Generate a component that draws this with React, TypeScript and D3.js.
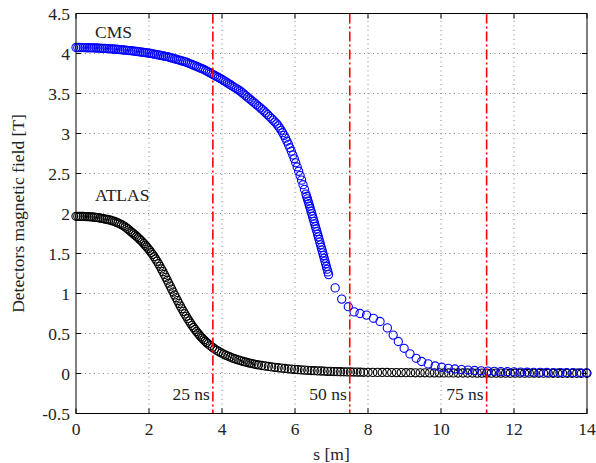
import React from "react";
import * as d3 from "d3";

// ATLAS field samples [s (m), B (T)]
const atlasPoints: [number, number][] = [
  [0,1.965],[0.05,1.965],[0.1,1.964],[0.15,1.964],[0.2,1.963],[0.25,1.962],[0.3,1.961],[0.35,1.96],[0.4,1.958],[0.45,1.956],[0.5,1.954],[0.55,1.951],[0.6,1.948],[0.65,1.944],[0.7,1.94],[0.75,1.935],[0.8,1.93],[0.85,1.925],[0.9,1.921],[0.95,1.916],[1,1.908],[1.05,1.9],[1.1,1.891],[1.15,1.882],[1.2,1.871],[1.25,1.86],[1.3,1.846],[1.35,1.831],[1.4,1.814],[1.45,1.795],[1.5,1.775],
  [1.54,1.76],[1.58,1.745],[1.62,1.73],[1.66,1.714],[1.7,1.697],[1.74,1.68],[1.78,1.662],[1.82,1.643],[1.86,1.623],[1.9,1.602],[1.94,1.581],[1.98,1.559],[2.02,1.536],[2.06,1.512],[2.1,1.487],[2.14,1.46],[2.18,1.432],[2.22,1.403],[2.26,1.372],[2.3,1.34],[2.34,1.307],[2.38,1.273],[2.42,1.238],[2.46,1.202],[2.5,1.166],[2.54,1.129],[2.58,1.092],[2.62,1.055],[2.66,1.018],[2.7,0.982],[2.74,0.946],[2.78,0.911],[2.82,0.876],[2.86,0.842],[2.9,0.809],[2.94,0.777],[2.98,0.745],[3.02,0.715],[3.06,0.685],[3.1,0.656],[3.14,0.628],[3.18,0.601],[3.22,0.575],[3.26,0.55],[3.3,0.526],[3.34,0.503],[3.38,0.481],[3.42,0.46],[3.46,0.44],[3.5,0.421],[3.54,0.403],[3.58,0.386],[3.62,0.37],
  [3.68,0.348],[3.74,0.327],[3.8,0.307],[3.86,0.289],[3.92,0.272],[3.98,0.257],[4.04,0.243],[4.1,0.23],[4.16,0.218],[4.22,0.206],[4.28,0.195],[4.34,0.185],[4.4,0.176],[4.46,0.167],[4.52,0.159],[4.58,0.151],[4.64,0.144],[4.7,0.137],[4.76,0.13],[4.82,0.124],[4.88,0.118],[4.94,0.112],[5,0.107],
  [5.09,0.1],[5.18,0.094],[5.27,0.088],[5.36,0.082],[5.45,0.077],[5.54,0.072],[5.63,0.067],[5.72,0.063],[5.81,0.059],[5.9,0.055],[5.99,0.051],[6.08,0.048],[6.17,0.045],[6.26,0.042],[6.35,0.04],[6.44,0.037],[6.53,0.035],[6.62,0.033],[6.71,0.031],[6.8,0.029],[6.89,0.027],[6.98,0.026],[7.07,0.024],[7.16,0.023],[7.25,0.022],[7.34,0.021],[7.43,0.02],[7.52,0.019],[7.61,0.018],[7.7,0.017],[7.79,0.016],[7.88,0.015],
  [8,0.015],[8.13,0.014],[8.26,0.014],[8.39,0.013],[8.52,0.013],[8.65,0.012],[8.78,0.011],[8.91,0.011],[9.04,0.01],[9.17,0.01],[9.3,0.009],[9.43,0.009],[9.56,0.009],[9.69,0.008],[9.82,0.008],[9.95,0.008],[10.08,0.007],[10.21,0.007],[10.34,0.007],[10.47,0.006],[10.6,0.006],[10.73,0.006],[10.86,0.006],[10.99,0.005],[11.12,0.005],[11.25,0.005],[11.38,0.005],[11.51,0.005],[11.64,0.005],[11.77,0.005],[11.9,0.004],[12.03,0.004],[12.16,0.004],[12.29,0.004],[12.42,0.004],[12.55,0.004],[12.68,0.004],[12.81,0.004],[12.94,0.004],[13.07,0.003],[13.2,0.003],[13.33,0.003],[13.46,0.003],[13.59,0.003],[13.72,0.003],[13.85,0.003],[14,0.003],
];

// CMS field samples [s (m), B (T)]
const cmsPoints: [number, number][] = [
  [0,4.075],[0.05,4.075],[0.1,4.075],[0.15,4.074],[0.2,4.074],[0.25,4.073],[0.3,4.072],[0.35,4.072],[0.4,4.071],[0.45,4.071],[0.5,4.07],
  [0.55,4.069],[0.6,4.068],[0.65,4.067],[0.7,4.065],[0.75,4.064],[0.8,4.063],[0.85,4.061],[0.9,4.06],[0.95,4.058],[1,4.057],
  [1.05,4.055],[1.1,4.053],[1.15,4.051],[1.2,4.048],[1.25,4.046],[1.3,4.044],[1.35,4.042],[1.4,4.04],[1.45,4.037],[1.5,4.035],
  [1.55,4.032],[1.6,4.029],[1.65,4.026],[1.7,4.023],[1.75,4.02],[1.8,4.017],[1.85,4.014],[1.9,4.011],[1.95,4.008],[2,4.005],
  [2.05,4.001],[2.1,3.996],[2.15,3.992],[2.2,3.987],[2.25,3.983],[2.3,3.978],[2.35,3.973],[2.4,3.969],[2.45,3.965],[2.5,3.96],
  [2.55,3.954],[2.6,3.947],[2.65,3.941],[2.7,3.934],[2.75,3.928],[2.8,3.921],[2.85,3.915],[2.9,3.908],[2.95,3.902],[3,3.895],
  [3.05,3.886],[3.1,3.876],[3.15,3.867],[3.2,3.857],[3.25,3.848],[3.3,3.838],[3.35,3.829],[3.4,3.819],[3.45,3.81],[3.5,3.8],
  [3.55,3.788],[3.6,3.775],[3.65,3.763],[3.7,3.75],[3.75,3.738],[3.8,3.725],[3.85,3.713],[3.9,3.7],[3.95,3.688],[4,3.675],
  [4.05,3.661],[4.1,3.646],[4.15,3.632],[4.2,3.617],[4.25,3.603],[4.3,3.588],[4.35,3.574],[4.4,3.559],[4.45,3.545],[4.5,3.53],
  [4.55,3.511],[4.6,3.492],[4.65,3.473],[4.7,3.454],[4.75,3.435],[4.8,3.416],[4.85,3.397],[4.9,3.378],[4.95,3.359],[5,3.34],
  [5.05,3.32],[5.1,3.3],[5.15,3.28],[5.2,3.258],[5.25,3.236],[5.3,3.213],[5.35,3.19],[5.4,3.167],[5.45,3.143],[5.5,3.12],
  [5.54,3.095],[5.58,3.068],[5.62,3.04],[5.66,3.01],[5.7,2.977],[5.74,2.942],[5.78,2.904],[5.82,2.864],[5.86,2.822],[5.9,2.778],[5.94,2.732],[5.98,2.684],[6.02,2.634],[6.06,2.582],[6.1,2.528],[6.14,2.473],[6.18,2.417],[6.22,2.36],[6.26,2.302],[6.3,2.243],
  [6.32,2.213],[6.34,2.183],[6.36,2.153],[6.38,2.122],[6.4,2.091],[6.42,2.06],[6.44,2.029],[6.46,1.998],[6.48,1.966],[6.5,1.934],[6.52,1.902],[6.54,1.87],[6.56,1.838],[6.58,1.806],[6.6,1.774],[6.62,1.741],[6.64,1.708],[6.66,1.675],[6.68,1.642],[6.7,1.609],[6.72,1.576],[6.74,1.542],[6.76,1.508],[6.78,1.474],[6.8,1.44],[6.82,1.406],[6.84,1.372],[6.86,1.338],[6.88,1.304],[6.9,1.27],[6.92,1.236],
  [7.1,1.07],[7.28,0.93],[7.46,0.835],[7.62,0.77],[7.78,0.75],[7.96,0.73],[8.15,0.69],[8.33,0.65],[8.53,0.57],[8.69,0.48],[8.83,0.4],[8.99,0.315],[9.15,0.245],[9.32,0.19],[9.47,0.15],[9.65,0.12],[9.84,0.094],[10.02,0.078],[10.2,0.065],
  [10.38,0.056],[10.56,0.049],[10.74,0.043],[10.92,0.038],[11.1,0.034],[11.28,0.03],[11.46,0.027],[11.64,0.024],[11.82,0.022],[12,0.02],[12.18,0.018],[12.36,0.016],[12.54,0.015],[12.72,0.014],[12.9,0.013],[13.08,0.012],[13.26,0.011],[13.44,0.01],[13.62,0.01],[13.8,0.009],[13.98,0.009],
];

const xTicks = [0, 2, 4, 6, 8, 10, 12, 14];
const yTicks = [-0.5, 0, 0.5, 1, 1.5, 2, 2.5, 3, 3.5, 4, 4.5];
const bunchS = [3.75, 7.5, 11.25];
const bunchLabels = ["25 ns", "50 ns", "75 ns"];
const seriesLabels = [
  { name: "CMS", s: 0.52, b: 4.27 },
  { name: "ATLAS", s: 0.52, b: 2.23 },
];

const W = 596, H = 463;
const L = 76, R = 587, T = 13.5, B = 413.5;
const textStyle = { fontFamily: "'Liberation Serif', 'DejaVu Serif', serif", fontSize: "17.5px", fill: "#222" } as const;

export default function App() {
  const x = d3.scaleLinear().domain([0, 14]).range([L, R]);
  const y = d3.scaleLinear().domain([-0.5, 4.5]).range([B, T]);
  const fmt = (v: number) => (v < 0 ? "-" + String(-v) : String(v));

  return (
    <svg width={W} height={H} style={{ position: "absolute", left: 0, top: 0, background: "#fff" }}>
      <rect x={0} y={0} width={W} height={H} fill="#fff" />
      {/* grid */}
      <g stroke="#666" strokeWidth={0.8} strokeDasharray="1,3.5">
        {xTicks.slice(1, -1).map((t) => (
          <line key={"gx" + t} x1={x(t)} x2={x(t)} y1={B} y2={T} />
        ))}
        {yTicks.slice(1, -1).map((t) => (
          <line key={"gy" + t} x1={L} x2={R} y1={y(t)} y2={y(t)} />
        ))}
      </g>
      {/* ATLAS */}
      <g fill="none" stroke="#000" strokeWidth={1.1}>
        {atlasPoints.map(([s, b], i) => (
          <circle key={"a" + i} cx={x(s)} cy={y(b)} r={4.1} />
        ))}
      </g>
      {/* CMS */}
      <g fill="none" stroke="#0000ff" strokeWidth={1.1}>
        {cmsPoints.map(([s, b], i) => (
          <circle key={"c" + i} cx={x(s)} cy={y(b)} r={4.1} />
        ))}
      </g>
      {/* bunch spacing lines */}
      <g stroke="#ff0000" strokeWidth={1.6} strokeDasharray="10,3,2,3">
        {bunchS.map((s) => (
          <line key={"b" + s} x1={x(s)} x2={x(s)} y1={T} y2={B} />
        ))}
      </g>
      {bunchS.map((s, i) => (
        <text key={"bl" + s} x={x(s) - 3} y={y(-0.25)} dy="0.35em" textAnchor="end" style={textStyle}>
          {bunchLabels[i]}
        </text>
      ))}
      {seriesLabels.map((d) => (
        <text key={d.name} x={x(d.s)} y={y(d.b)} dy="0.35em" style={textStyle}>
          {d.name}
        </text>
      ))}
      {/* box and ticks */}
      <rect x={L} y={T} width={R - L} height={B - T} fill="none" stroke="#000" strokeWidth={1} />
      <g stroke="#000" strokeWidth={1}>
        {xTicks.map((t) => (
          <g key={"tx" + t}>
            <line x1={x(t)} x2={x(t)} y1={B} y2={B - 5} />
            <line x1={x(t)} x2={x(t)} y1={T} y2={T + 5} />
          </g>
        ))}
        {yTicks.map((t) => (
          <g key={"ty" + t}>
            <line x1={L} x2={L + 5} y1={y(t)} y2={y(t)} />
            <line x1={R} x2={R - 5} y1={y(t)} y2={y(t)} />
          </g>
        ))}
      </g>
      {xTicks.map((t) => (
        <text key={"xl" + t} x={x(t)} y={429} dy="0.35em" textAnchor="middle" style={textStyle}>
          {fmt(t)}
        </text>
      ))}
      {yTicks.map((t) => (
        <text key={"yl" + t} x={70} y={y(t)} dy="0.35em" textAnchor="end" style={textStyle}>
          {fmt(t)}
        </text>
      ))}
      <text x={(L + R) / 2} y={454} dy="0.35em" textAnchor="middle" style={textStyle}>
        s [m]
      </text>
      <text
        transform={`translate(18,${(T + B) / 2}) rotate(-90)`}
        dy="0.35em"
        textAnchor="middle"
        style={textStyle}
      >
        Detectors magnetic field [T]
      </text>
    </svg>
  );
}
